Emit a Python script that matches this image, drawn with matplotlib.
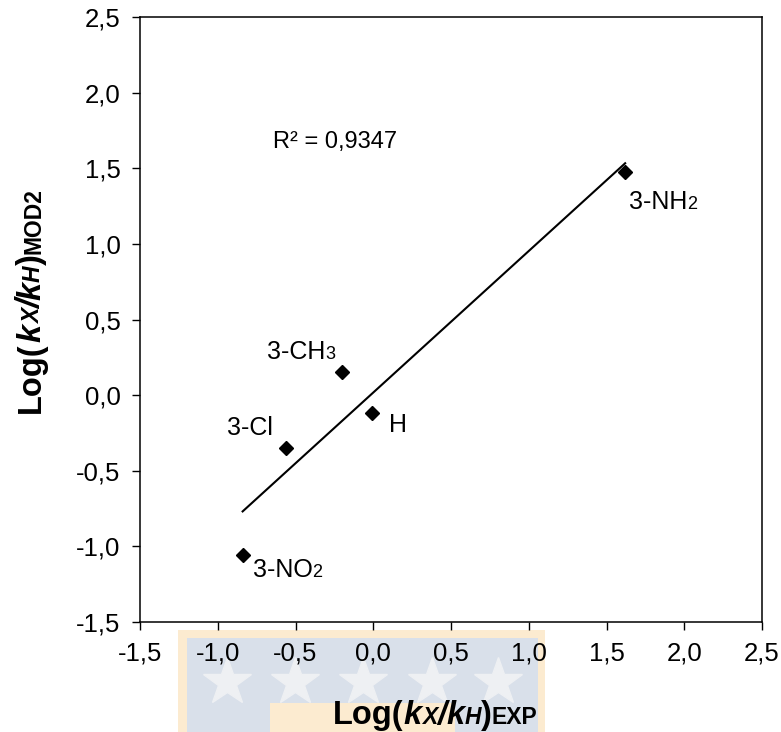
import numpy as np
import matplotlib
matplotlib.use("Agg")
import matplotlib.pyplot as plt
from matplotlib.patches import Rectangle
from matplotlib.lines import Line2D

plt.rcParams['font.family'] = ['Liberation Sans', 'DejaVu Sans']

# datos
sustituyentes = [("3-NH", "2"), ("3-CH", "3"), ("H", ""), ("3-Cl", ""), ("3-NO", "2")]
log_exp = [1.62, -0.20, -0.01, -0.56, -0.84]
log_mod2 = [1.475, 0.15, -0.12, -0.35, -1.06]
r2_texto = "R² = 0,9347"

ticks = [-1.5, -1.0, -0.5, 0.0, 0.5, 1.0, 1.5, 2.0, 2.5]
tick_labels = ["-1,5", "-1,0", "-0,5", "0,0", "0,5", "1,0", "1,5", "2,0", "2,5"]

# posición de las etiquetas: inicio (pixeles, relativo al punto), base de la línea
offsets = [(4, -37), (-75, 13), (17, -19), (-59, 13), (10, -22)]

fig = plt.figure(figsize=(7.81, 7.32), dpi=100)

# marca de agua del fondo
for (x0, y0, w, h, c) in [(178, 0, 367, 102, '#fcebd0'), (187, 0, 351, 94, '#d9e0ea'),
                          (270, 0, 185, 29, '#fcebd0')]:
    fig.patches.append(Rectangle((x0 / 781, y0 / 732), w / 781, h / 732, transform=fig.transFigure,
                                 facecolor=c, edgecolor='none', zorder=-2))
for sx in [227, 295, 363, 432, 498]:
    fig.add_artist(Line2D([sx / 781], [(732 - 682) / 732], marker='*', markersize=36,
                          color='#eef0f3', linestyle='none', transform=fig.transFigure, zorder=-1))

ax = fig.add_axes([140 / 781, 110 / 732, 622 / 781, 605 / 732])
ax.patch.set_alpha(0)

ax.plot(log_exp, log_mod2, linestyle='none', marker='D', markersize=7.5,
        color='black', zorder=3)

# línea de tendencia
pend, inter = np.polyfit(log_exp, log_mod2, 1)
xl = np.array([min(log_exp), max(log_exp)])
ax.plot(xl, pend * xl + inter, color='black', linewidth=1.5, zorder=2)

ax.text(-0.645, 1.674, r2_texto, fontsize=17, va='center', ha='left')

ax.set_xlim(-1.5, 2.5)
ax.set_ylim(-1.5, 2.5)
ax.set_xticks(ticks)
ax.set_xticklabels(tick_labels)
ax.set_yticks(ticks)
ax.set_yticklabels(tick_labels)
ax.tick_params(direction='out', length=6, width=1, labelsize=18.5, pad=8)
for s in ax.spines.values():
    s.set_linewidth(1.1)

fig.canvas.draw()
rend = fig.canvas.get_renderer()

# etiquetas de los puntos, con el subíndice más pequeño sobre la línea base
for (txt, sub), x, y, (dx, dy) in zip(sustituyentes, log_exp, log_mod2, offsets):
    t = ax.annotate(txt, (x, y), xytext=(dx, dy), textcoords='offset pixels',
                    ha='left', va='baseline', fontsize=18)
    if sub:
        w = t.get_window_extent(rend).width
        ax.annotate(sub, (x, y), xytext=(dx + w, dy), textcoords='offset pixels',
                    ha='left', va='baseline', fontsize=13)


def etiqueta(x0, y0, partes, rot=0):
    x, y = x0, y0
    for s, tam, estilo in partes:
        t = fig.text(x, y, s, fontsize=tam, fontweight='bold', fontstyle=estilo,
                     rotation=rot, rotation_mode='anchor', ha='left', va='baseline')
        bb = t.get_window_extent(rend)
        if rot == 0:
            x += bb.width / fig.bbox.width
        else:
            y += bb.height / fig.bbox.height


grande, chico = 23.5, 16.5
base = [("Log(", grande, 'normal'), ("k", grande, 'italic'), ("X", chico, 'italic'),
        ("/", grande, 'italic'), ("k", grande, 'italic'), ("H", chico, 'italic'),
        (")", grande, 'normal')]
etiqueta(333 / 781, 8 / 732, base + [("EXP", chico, 'normal')])
etiqueta(40 / 781, (732 - 413) / 732, base + [("MOD2", chico, 'normal')], rot=90)

fig.savefig("out.png", dpi=100)
